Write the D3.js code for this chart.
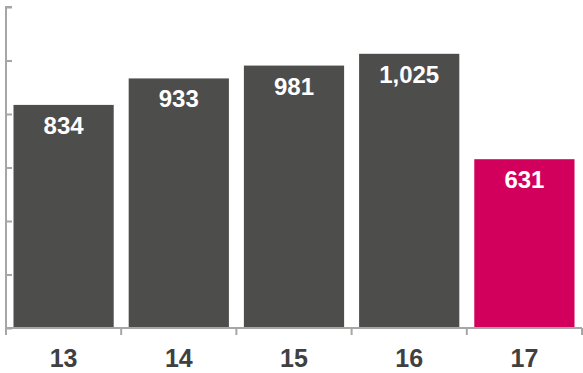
<!DOCTYPE html>
<html>
<head>
<meta charset="utf-8">
<script src="https://cdn.jsdelivr.net/npm/d3@7"></script>
<style>
  body { margin: 0; background: #fff; }
  text { font-family: "Liberation Sans", Arial, sans-serif; font-weight: bold; }
</style>
</head>
<body>
<div id="chart"></div>
<script>
const years = ["13", "14", "15", "16", "17"];
const values = [834, 933, 981, 1025, 631];
const yTicks = [0, 200, 400, 600, 800, 1000, 1200];

const W = 583, H = 373;
const x0 = 6, x1 = 582, yBase = 328, yTop = 7;

const svg = d3.select("#chart").append("svg")
    .attr("width", W)
    .attr("height", H);

const x = d3.scaleBand()
    .domain(years)
    .range([x0, x1])
    .paddingInner(0.13)
    .paddingOuter(0.065);

const y = d3.scaleLinear()
    .domain([0, 1200])
    .range([yBase, yTop]);

// bars
svg.selectAll(".bar")
    .data(years)
    .enter()
    .append("rect")
    .attr("class", "bar")
    .attr("x", d => x(d))
    .attr("width", x.bandwidth())
    .attr("y", (d, i) => y(values[i]))
    .attr("height", (d, i) => yBase - y(values[i]))
    .attr("fill", (d, i) => i === years.length - 1 ? "#d2005c" : "#4d4d4c");

// value labels
svg.selectAll(".val")
    .data(years)
    .enter()
    .append("text")
    .attr("x", d => x(d) + x.bandwidth() / 2)
    .attr("y", (d, i) => y(values[i]) + 29)
    .attr("text-anchor", "middle")
    .attr("fill", "#fff")
    .style("font-size", "24px")
    .text((d, i) => d3.format(",")(values[i]));

// y axis, ticks pointing inward
const yAxis = svg.append("g")
    .attr("transform", `translate(${x0},0)`)
    .call(d3.axisRight(y).tickValues(yTicks).tickSize(6).tickFormat(""));
yAxis.selectAll("path, line").attr("stroke", "#a6a6a6").attr("stroke-width", 2);
yAxis.select("path").attr("d", `M6,${yTop}H0V${yBase}`);

// x axis
const xEdges = years.map(d => x(d) - x.step() * x.paddingInner() / 2).concat([x1]);
xEdges[0] = x0;
const xAxis = svg.append("g");
xAxis.append("line")
    .attr("x1", x0).attr("x2", x1)
    .attr("y1", yBase).attr("y2", yBase)
    .attr("stroke", "#a6a6a6").attr("stroke-width", 2);
xAxis.selectAll(".xt")
    .data(xEdges)
    .enter()
    .append("line")
    .attr("x1", d => d).attr("x2", d => d)
    .attr("y1", yBase).attr("y2", yBase + 7)
    .attr("stroke", "#a6a6a6").attr("stroke-width", 2);

svg.selectAll(".xl")
    .data(years)
    .enter()
    .append("text")
    .attr("x", d => x(d) + x.bandwidth() / 2)
    .attr("y", 367)
    .attr("text-anchor", "middle")
    .attr("fill", "#404040")
    .style("font-size", "25px")
    .text(d => d);
</script>
</body>
</html>
